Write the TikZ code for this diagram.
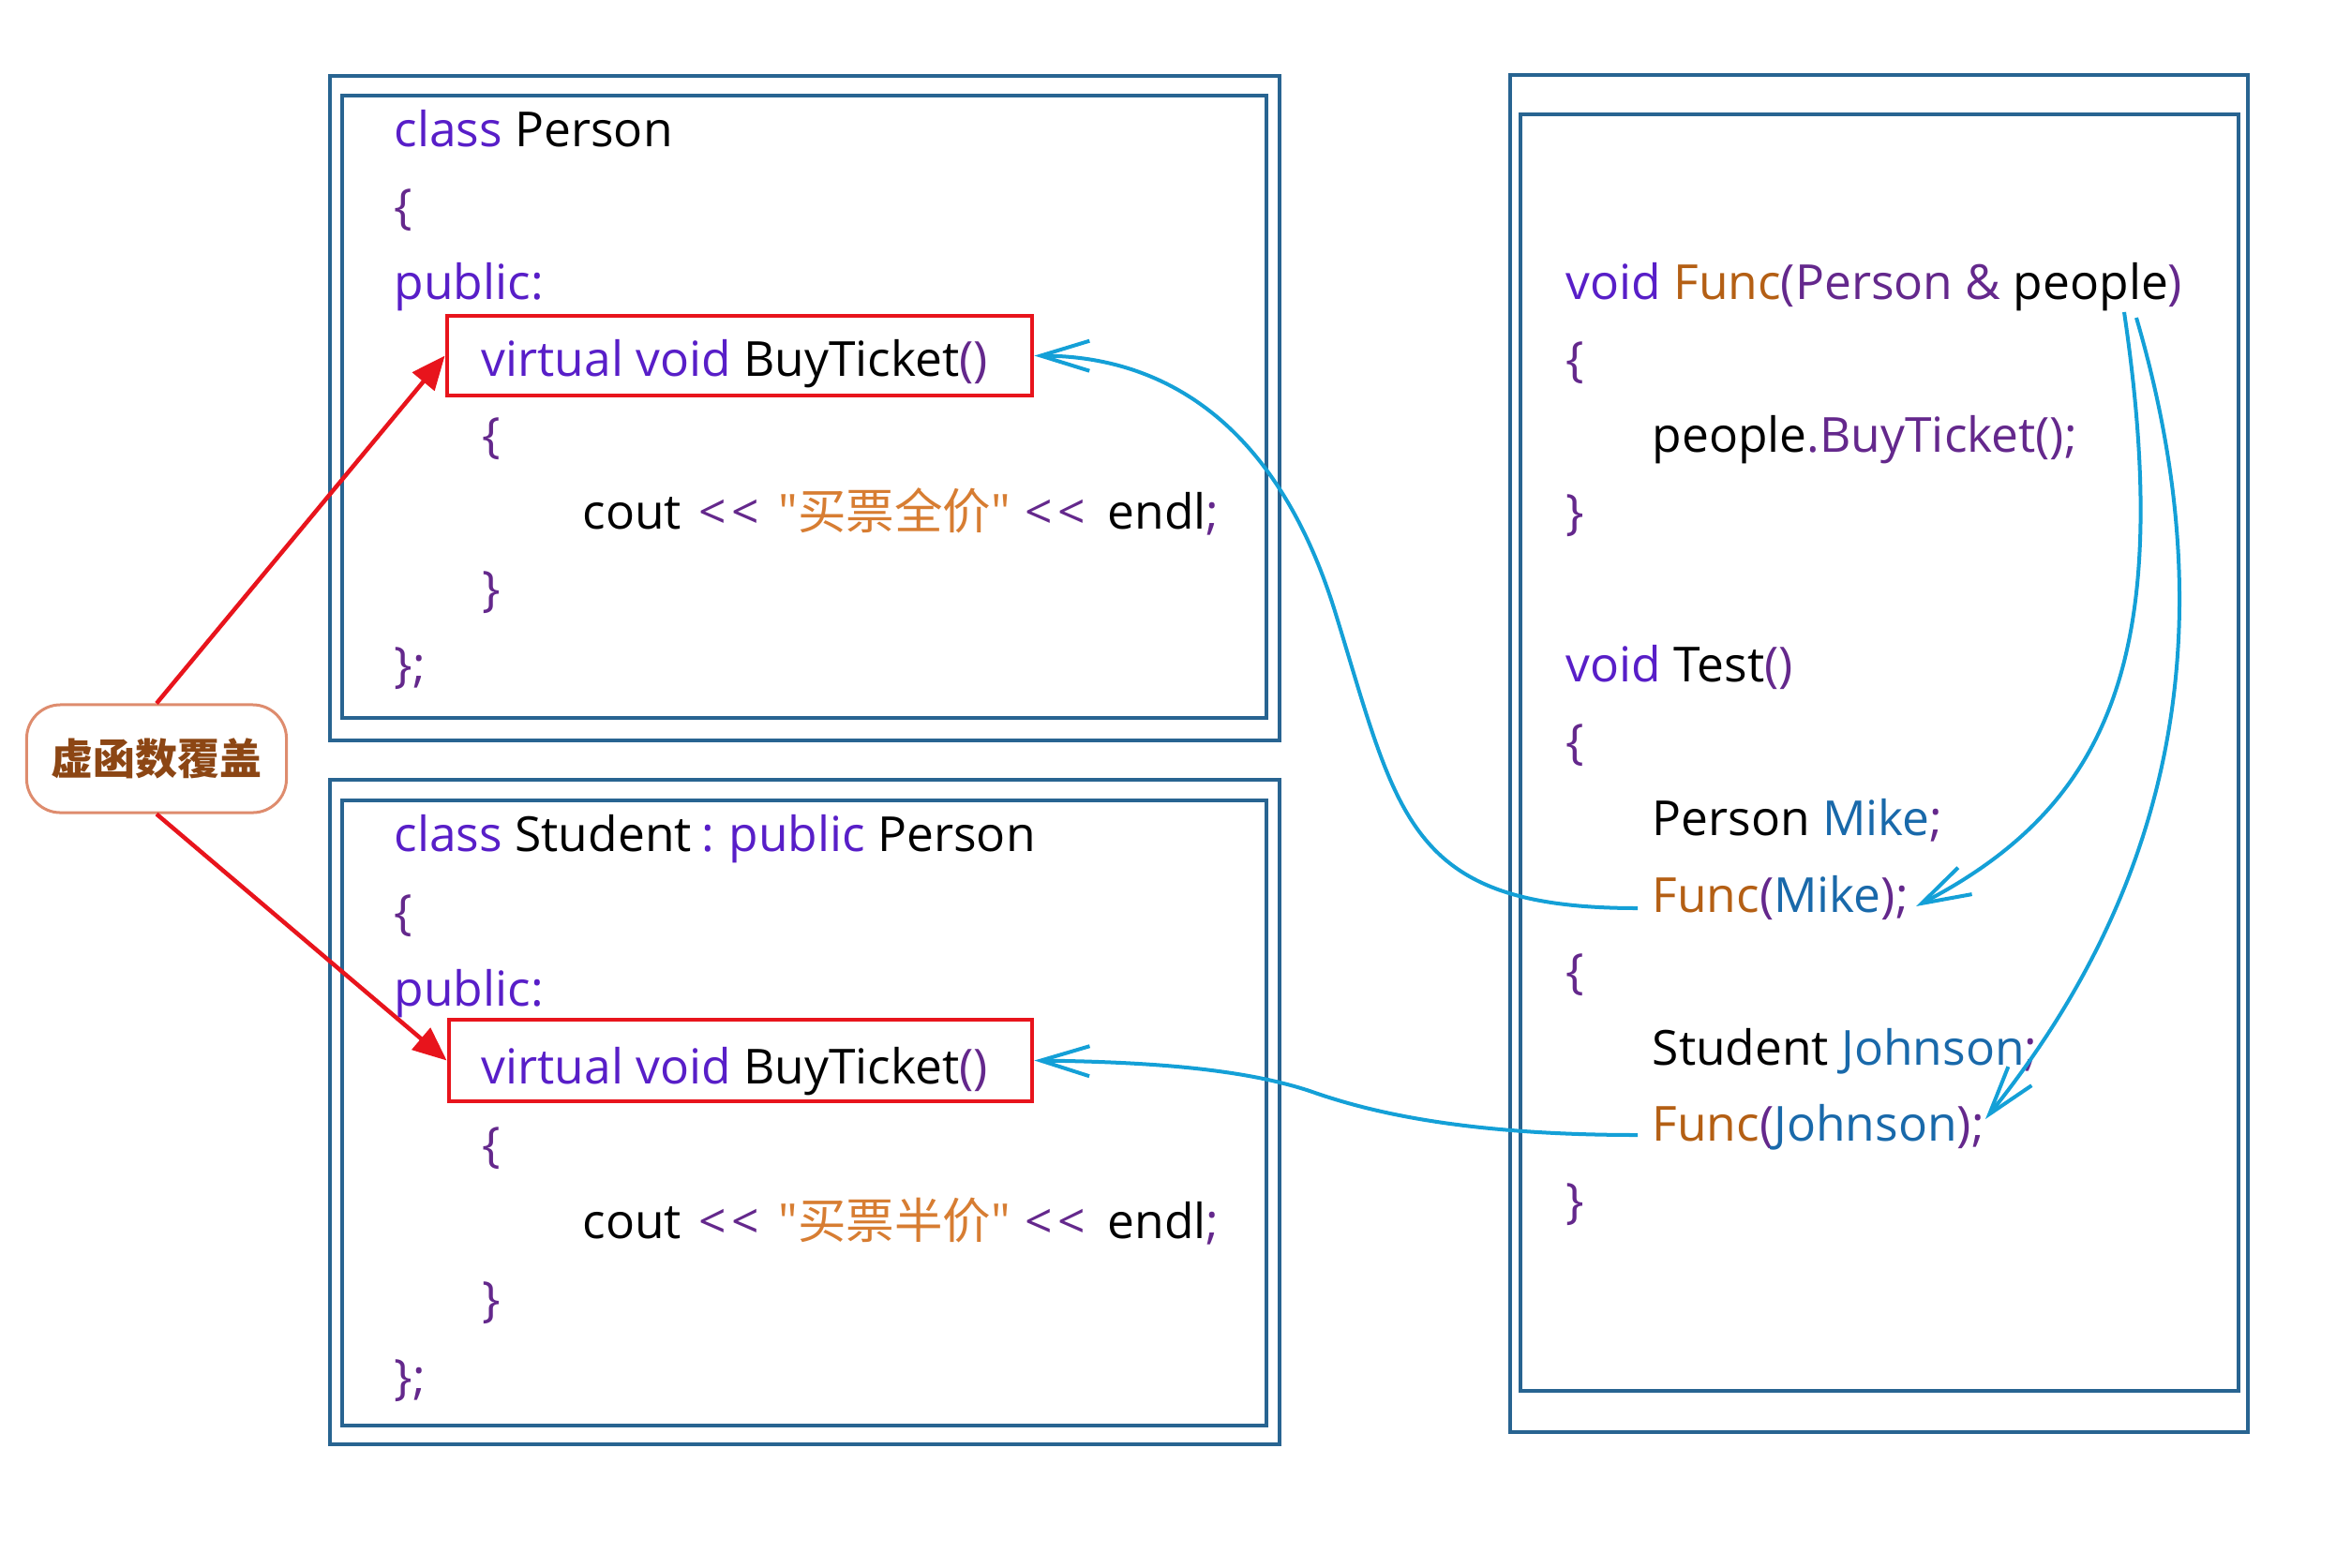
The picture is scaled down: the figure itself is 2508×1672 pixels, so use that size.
\documentclass[tikz,border=0pt]{standalone}
\usepackage{fontspec}
\setmainfont{Open Sans}
\newfontfamily\qfont{Open Sans}
\newfontfamily\cjk{Noto Sans CJK SC}
\usetikzlibrary{arrows.meta}
\definecolor{frame}{RGB}{40,100,145}
\definecolor{kw}{RGB}{88,30,200}
\definecolor{pu}{RGB}{100,40,140}
\definecolor{strc}{RGB}{215,125,50}
\definecolor{fnc}{RGB}{180,95,20}
\definecolor{varc}{RGB}{25,105,170}
\definecolor{redc}{RGB}{232,20,28}
\definecolor{bluec}{RGB}{20,160,215}
\definecolor{calloutb}{RGB}{222,140,110}
\definecolor{callt}{RGB}{140,70,20}
\newcommand{\shl}{<\kern0.05cm<}
\begin{document}
\begin{tikzpicture}[x=0.01cm,y=-0.01cm,
  code/.style={anchor=base west, inner sep=0pt, font=\fontsize{14.65pt}{16pt}\selectfont},
  framebox/.style={draw=frame, line width=0.045cm},
  redbox/.style={draw=redc, line width=0.045cm, rectangle, inner sep=0pt},
  redarrow/.style={draw=redc, line width=0.045cm, -{Triangle[length=0.36cm,width=0.3cm]}},
  bluearrow/.style={draw=bluec, line width=0.04cm, -{Straight Barb[length=0.52cm,width=0.32cm]}},
  callout/.style={draw=calloutb, line width=0.03cm, rounded corners=0.36cm, minimum width=2.77cm, minimum height=1.15cm, inner sep=0pt, text=callt, font=\cjk\bfseries\fontsize{12.8pt}{14pt}\selectfont},
]
\useasboundingbox[fill=white] (0,0) rectangle (2508,1672);

% frames
\draw[framebox] (352,81) rectangle (1365,790);
\draw[framebox] (365,102) rectangle (1351,766);
\draw[framebox] (352,832) rectangle (1365,1541);
\draw[framebox] (365,854) rectangle (1351,1521);
\draw[framebox] (1611,80) rectangle (2398,1528);
\draw[framebox] (1622,122) rectangle (2388,1484);

% red boxes
\node[redbox, minimum width=6.24cm, minimum height=0.85cm] (pr) at (789,379.5) {};
\node[redbox, minimum width=6.22cm, minimum height=0.87cm] (sr) at (790,1131.5) {};

% Person class
\node[code] (p1) at (420,156) {\textcolor{kw}{class} Person};
\node[code,pu] (p2) at (420,238) {\{};
\node[code,kw] (p3) at (420,319) {public:};
\node[code] (p4) at (513,401) {\textcolor{kw}{virtual void} BuyTicket\textcolor{pu}{()}};
\node[code,pu] (p5) at (514,482) {\{};
\node[code] (p6a) at (621,564) {cout};
\node[code,pu] (p6b) at (745,564) {\shl};
\node[code,strc] (p6c) at (830,564) {{\qfont "}{\cjk 买票全价}{\qfont "}};
\node[code,pu] (p6d) at (1093,564) {\shl};
\node[code] (p6e) at (1181,564) {endl\textcolor{pu}{;}};
\node[code,pu] (p7) at (514,646) {\}};
\node[code,pu] (p8) at (420,727) {\};};

% Student class
\node[code] (s1) at (420,908) {\textcolor{kw}{class} Student\kern-0.03cm{} \textcolor{kw}{:\kern-0.02cm{} public} Person};
\node[code,pu] (s2) at (420,991) {\{};
\node[code,kw] (s3) at (420,1073) {public:};
\node[code] (s4) at (513,1156) {\textcolor{kw}{virtual void} BuyTicket\textcolor{pu}{()}};
\node[code,pu] (s5) at (514,1239) {\{};
\node[code] (s6a) at (621,1321) {cout};
\node[code,pu] (s6b) at (745,1321) {\shl};
\node[code,strc] (s6c) at (830,1321) {{\qfont "}{\cjk 买票半价}{\qfont "}};
\node[code,pu] (s6d) at (1093,1321) {\shl};
\node[code] (s6e) at (1181,1321) {endl\textcolor{pu}{;}};
\node[code,pu] (s7) at (514,1404) {\}};
\node[code,pu] (s8) at (420,1487) {\};};

% right code
\node[code] (r1) at (1670,319) {\textcolor{kw}{void} \textcolor{fnc}{Func}\textcolor{pu}{(Person \&} people\textcolor{pu}{)}};
\node[code,pu] (r2) at (1670,401) {\{};
\node[code] (r3) at (1762,482) {people\textcolor{pu}{.BuyTicket();}};
\node[code,pu] (r4) at (1670,564) {\}};
\node[code] (r5) at (1670,727) {\textcolor{kw}{void} Test\textcolor{pu}{()}};
\node[code,pu] (r6) at (1670,809) {\{};
\node[code] (r7) at (1762,891) {Person \textcolor{varc}{Mike}\textcolor{pu}{;}};
\node[code] (r8) at (1762,973) {\textcolor{fnc}{Func}\textcolor{pu}{(}\textcolor{varc}{Mike}\textcolor{pu}{);}};
\node[code,pu] (r9) at (1670,1054) {\{};
\node[code] (r10) at (1762,1136) {Student \textcolor{varc}{Johnson}\textcolor{pu}{;}};
\node[code] (r11) at (1762,1217) {\textcolor{fnc}{Func}\textcolor{pu}{(}\textcolor{varc}{Johnson}\textcolor{pu}{);}};
\node[code,pu] (r12) at (1670,1299) {\}};

% callout
\node[callout] (cb) at (167,809.5) {虚函数覆盖};

% red arrows
\draw[redarrow] (cb.north) -- (pr.west);
\draw[redarrow] (cb.south) -- (sr.west);

% blue connectors
\coordinate (fmL) at (1747,969);
\coordinate (fjL) at (1747,1211);
\coordinate (mA) at (1424,652);
\coordinate (mB) at (1400,1165);
\coordinate (pplA) at (2266,333);
\coordinate (pplB) at (2279,339);
\coordinate (fmR) at (2044,967);
\coordinate (fjR) at (2118,1194);
\draw[bluearrow] (fmL) .. controls (1500,969) and (1492,872) .. (mA) .. controls (1368,472) and (1260,380) .. (pr.east);
\draw[bluearrow] (fjL) .. controls (1560,1211) and (1460,1186) .. (mB) .. controls (1330,1141) and (1230,1133) .. (sr.east);
\draw[bluearrow] (pplA) .. controls (2320,700) and (2250,860) .. (fmR);
\draw[bluearrow] (pplB) .. controls (2370,650) and (2330,930) .. (fjR);
\end{tikzpicture}
\end{document}
